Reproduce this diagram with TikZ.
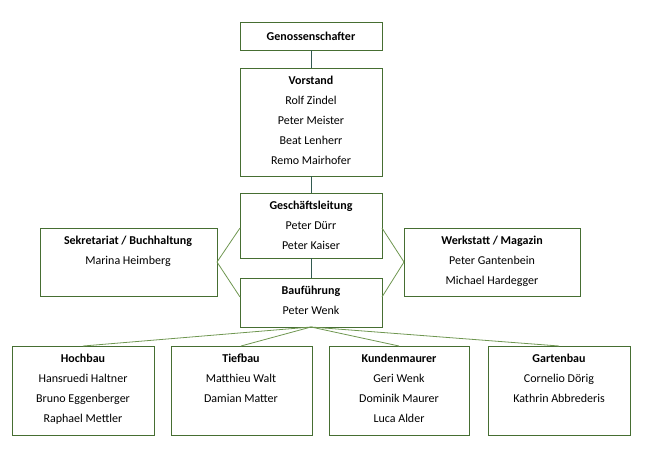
\documentclass[tikz,border=0pt]{standalone}
\usepackage{fontspec}
\setmainfont{Carlito}
\begin{document}
\begin{tikzpicture}[x=1pt,y=-1pt,
  box/.style={draw=boxgreen,line width=0.9pt,fill=white,inner sep=0pt},
  hd/.style={font=\bfseries},
  conn/.style={draw=linegreen,line width=0.8pt},
  vconn/.style={draw=darkline,line width=0.8pt}]
\definecolor{boxgreen}{RGB}{70,110,50}
\definecolor{linegreen}{RGB}{110,150,80}
\definecolor{darkline}{RGB}{50,90,80}
\useasboundingbox (0,0) rectangle (647,453);
\fontsize{12}{20}\selectfont
% boxes
\draw[box] (240,22) rectangle (382,50) coordinate (gb);
\draw[box] (240,68) rectangle (382,176);
\draw[box] (240,193) rectangle (382,258);
\draw[box] (240,278) rectangle (382,327);
\draw[box] (40,228) rectangle (217,296);
\draw[box] (404,228) rectangle (580,296);
\draw[box] (12,346) rectangle (154,435);
\draw[box] (171,346) rectangle (312,435);
\draw[box] (329,346) rectangle (469,435);
\draw[box] (488,346) rectangle (630,435);
% anchors
\coordinate (gen-s) at (311,50);
\coordinate (vor-n) at (311,68);
\coordinate (vor-s) at (311,176);
\coordinate (gl-n) at (311,193);
\coordinate (gl-s) at (311,258);
\coordinate (gl-w) at (240,228);
\coordinate (gl-e) at (382,228);
\coordinate (bf-n) at (311,278);
\coordinate (bf-s) at (311,327);
\coordinate (bf-w) at (240,297);
\coordinate (bf-e) at (382,297);
\coordinate (sek-e) at (217,262);
\coordinate (wer-w) at (404,262);
\coordinate (hoch-n) at (83,346);
\coordinate (tief-n) at (241,346);
\coordinate (kun-n) at (399,346);
\coordinate (gar-n) at (559,346);
% connectors
\draw[vconn] (gen-s) -- (vor-n);
\draw[vconn] (vor-s) -- (gl-n);
\draw[vconn] (gl-s) -- (bf-n);
\draw[conn] (gl-w) -- (sek-e) -- (bf-w);
\draw[conn] (gl-e) -- (wer-w) -- (bf-e);
\foreach \t in {hoch-n,tief-n,kun-n,gar-n} \draw[conn] (bf-s) -- (\t);
% texts
\node[hd] (t1) at (311,36) {Genossenschafter};
\node[align=center,anchor=north] (t2) at (311,72) {\textbf{Vorstand}\\Rolf Zindel\\Peter Meister\\Beat Lenherr\\Remo Mairhofer};
\node[align=center,anchor=north] (t3) at (311,197) {\textbf{Geschäftsleitung}\\Peter Dürr\\Peter Kaiser};
\node[align=center,anchor=north] (t4) at (311,282) {\textbf{Bauführung}\\Peter Wenk};
\node[align=center,anchor=north] (t5) at (128,232) {\textbf{Sekretariat / Buchhaltung}\\Marina Heimberg};
\node[align=center,anchor=north] (t6) at (492,232) {\textbf{Werkstatt / Magazin}\\Peter Gantenbein\\Michael Hardegger};
\node[align=center,anchor=north] (t7) at (83,350) {\textbf{Hochbau}\\Hansruedi Haltner\\Bruno Eggenberger\\Raphael Mettler};
\node[align=center,anchor=north] (t8) at (241,350) {\textbf{Tiefbau}\\Matthieu Walt\\Damian Matter};
\node[align=center,anchor=north] (t9) at (399,350) {\textbf{Kundenmaurer}\\Geri Wenk\\Dominik Maurer\\Luca Alder};
\node[align=center,anchor=north] (t10) at (559,350) {\textbf{Gartenbau}\\Cornelio Dörig\\Kathrin Abbrederis};
\end{tikzpicture}
\end{document}
